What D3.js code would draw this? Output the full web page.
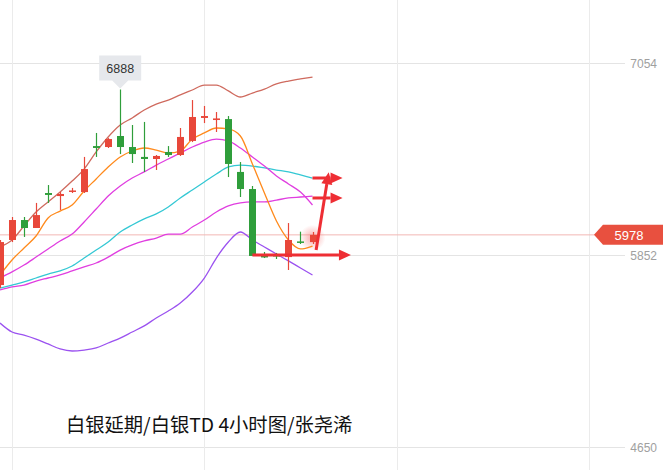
<!DOCTYPE html>
<html><head><meta charset="utf-8">
<script src="https://cdn.jsdelivr.net/npm/d3@7"></script>
<style>html,body{margin:0;padding:0;background:#fff;}svg{display:block;}</style>
</head><body>
<svg id="chart" width="663" height="470"></svg>
<script>
// ---- data ----
const idx = d3.range(27);
const open  = [5664,5946,6071,6021,6240,6221,6250,6246,6534,6528,6597,6528,6466,6453,6497,6478,6566,6710,6697,6703,6372,6265,5846,5852,5839,5937,5933];
const close = [5933,6071,6021,6102,6228,6234,6256,6390,6522,6578,6528,6484,6453,6472,6478,6591,6716,6722,6707,6422,6265,5846,5843,5846,5946,5930,5978];
const high  = [5946,6090,6090,6178,6290,6246,6272,6466,6616,6584,6888,6666,6685,6478,6534,6647,6822,6785,6747,6722,6434,6284,5871,5865,6052,5998,5996];
const low   = [5645,5933,5965,6021,6178,6134,6240,6240,6466,6522,6484,6428,6372,6384,6466,6472,6559,6678,6622,6340,6215,5846,5833,5827,5758,5921,5921];
const upperBand = [5902,5946,6034,6121,6184,6246,6315,6390,6497,6591,6666,6710,6760,6797,6822,6854,6885,6916,6916,6879,6841,6866,6891,6923,6941,6954,6966];
const ma5  = [5727,5821,5896,5971,6084,6127,6165,6253,6328,6403,6466,6503,6522,6509,6491,6503,6578,6616,6647,6641,6597,6422,6240,6065,5946,5890,5908];
const ma10 = [5708,5746,5789,5839,5890,5940,5983,6059,6140,6221,6284,6334,6372,6415,6453,6491,6528,6559,6578,6566,6522,6466,6409,6347,6297,6246,6165];
const ma20 = [5645,5664,5683,5708,5733,5752,5783,5833,5883,5933,5996,6040,6078,6109,6153,6209,6259,6309,6359,6403,6415,6409,6397,6384,6372,6353,6334];
const ma30 = [5633,5652,5664,5689,5708,5727,5752,5777,5802,5839,5883,5915,5940,5958,5983,5983,6027,6071,6121,6159,6178,6184,6184,6196,6209,6215,6221];
const lowerBand = [5426,5370,5351,5326,5295,5264,5251,5257,5270,5301,5332,5370,5408,5458,5501,5551,5620,5708,5833,5933,5996,5946,5902,5858,5815,5771,5727];
const yTicks = [7054, 5852, 4650];
const xGridIdx = [1, 17, 33, 49];
const lastPrice = 5978;
const peakLabel = "6888";
const peakIndex = 10;
const title = "白银延期/白银TD 4小时图/张尧浠";
// arrows in data space: [fromIndex, fromPrice, toIndex, toPrice]
const arrows = [
  [26.0, 6334, 28.5, 6334],
  [26.0, 6209, 28.5, 6209],
  [21.0, 5852, 29.2, 5852],
  [26.3, 5883, 27.35, 6370]
];

// ---- drawing ----
const svg = d3.select("#chart");
const W = 663, H = 470, plotR = 625;
const x = d3.scaleLinear().domain([0, 52]).range([0, plotR]);
const y = d3.scaleLinear().domain([4650, 7054]).range([447, 63]);

const RED = "#e8473a", GREEN = "#2f9e3b";

// grid
const grid = svg.append("g");
grid.selectAll("line.h").data(yTicks).join("line")
  .attr("x1", 0).attr("x2", plotR)
  .attr("y1", d => Math.round(y(d)) + 0.5).attr("y2", d => Math.round(y(d)) + 0.5)
  .attr("stroke", "#e4e4e4").attr("stroke-width", 1);
grid.selectAll("line.v").data(xGridIdx).join("line")
  .attr("x1", d => Math.round(x(d)) + 0.5).attr("x2", d => Math.round(x(d)) + 0.5)
  .attr("y1", 0).attr("y2", H)
  .attr("stroke", "#ebebeb").attr("stroke-width", 1);

// y-axis labels (right)
const yAxis = d3.axisRight(y).tickValues(yTicks).tickSize(0).tickPadding(0).tickFormat(d3.format("d"));
const ax = svg.append("g").attr("transform", `translate(${W - 6},0)`).call(yAxis);
ax.select(".domain").remove();
ax.selectAll("text").attr("text-anchor", "end").attr("fill", "#a0a0a0")
  .attr("font-family", "Liberation Sans, Arial, sans-serif").attr("font-size", 12).attr("dy", "0.35em");

// last price line
svg.append("line").attr("x1", 0).attr("x2", 600)
  .attr("y1", y(lastPrice)).attr("y2", y(lastPrice))
  .attr("stroke", "#f2b8b4").attr("stroke-width", 1);

// glow around last candle
const defs = svg.append("defs");
const rg = defs.append("radialGradient").attr("id", "glow");
rg.append("stop").attr("offset", "0%").attr("stop-color", "#f46a6a").attr("stop-opacity", 0.55);
rg.append("stop").attr("offset", "100%").attr("stop-color", "#f46a6a").attr("stop-opacity", 0);
svg.append("circle").attr("cx", x(26)).attr("cy", y(close[26]) + 3).attr("r", 13).attr("fill", "url(#glow)");

// lines
const lineGen = arr => d3.line().x((d, i) => x(i)).y(d => y(d)).curve(d3.curveMonotoneX)(arr);
const series = [
  [lowerBand, "#9b52f0"],
  [ma30, "#e03ee0"],
  [ma20, "#34c8d4"],
  [ma10, "#e03ee0"],
  [ma5, "#ff8a1c"],
  [upperBand, "#cf6a5e"]
];
svg.append("g").selectAll("path").data(series).join("path")
  .attr("d", d => lineGen(d[0])).attr("fill", "none")
  .attr("stroke", d => d[1]).attr("stroke-width", 1.3);

// candles
const bw = 7;
const cg = svg.append("g").selectAll("g").data(idx).join("g");
const col = i => close[i] >= open[i] ? RED : GREEN;
cg.append("line")
  .attr("x1", i => Math.round(x(i)) + 0.5).attr("x2", i => Math.round(x(i)) + 0.5)
  .attr("y1", i => y(high[i])).attr("y2", i => y(low[i]))
  .attr("stroke", col).attr("stroke-width", 1.2);
cg.append("rect")
  .attr("x", i => Math.round(x(i)) + 0.5 - bw / 2)
  .attr("y", i => y(Math.max(open[i], close[i])))
  .attr("width", bw)
  .attr("height", i => Math.max(1.5, Math.abs(y(open[i]) - y(close[i]))))
  .attr("fill", col);

// arrows
const arrowG = svg.append("g");
arrows.forEach(a => {
  const x1 = x(a[0]), y1 = y(a[1]), x2 = x(a[2]), y2 = y(a[3]);
  const ang = Math.atan2(y2 - y1, x2 - x1);
  const hl = 12, hw = 5.5;
  const bx = x2 - hl * Math.cos(ang), by = y2 - hl * Math.sin(ang);
  arrowG.append("line").attr("x1", x1).attr("y1", y1).attr("x2", bx).attr("y2", by)
    .attr("stroke", "#ee2e34").attr("stroke-width", 3);
  const px = -Math.sin(ang) * hw, py = Math.cos(ang) * hw;
  arrowG.append("path")
    .attr("d", `M${x2},${y2}L${bx + px},${by + py}L${bx - px},${by - py}Z`)
    .attr("fill", "#ee2e34");
});

// last price tag
const ly = y(lastPrice);
svg.append("path")
  .attr("d", `M${594},${ly}L${603},${ly - 10}L${W},${ly - 10}L${W},${ly + 10}L${603},${ly + 10}Z`)
  .attr("fill", "#e8503f");
svg.append("text").attr("x", 629).attr("y", ly).attr("dy", "0.36em")
  .attr("text-anchor", "middle").attr("fill", "#fff")
  .attr("font-family", "Liberation Sans, Arial, sans-serif").attr("font-size", 13)
  .text(lastPrice);

// peak tooltip
const px0 = x(peakIndex), py0 = y(6888);
svg.append("path")
  .attr("d", `M${px0 - 21},${py0 - 34}h42v25h-13l-8,8l-8,-8h-13Z`)
  .attr("fill", "#e6e8ec");
svg.append("text").attr("x", px0).attr("y", py0 - 21.5).attr("dy", "0.36em")
  .attr("text-anchor", "middle").attr("fill", "#333")
  .attr("font-family", "Liberation Sans, Arial, sans-serif").attr("font-size", 12.5)
  .text(peakLabel);

// title
svg.append("text").attr("x", 66).attr("y", 432)
  .attr("fill", "#111").attr("font-family", "Noto Sans CJK SC, sans-serif").attr("font-size", 19.3)
  .text(title);
</script>
</body></html>
